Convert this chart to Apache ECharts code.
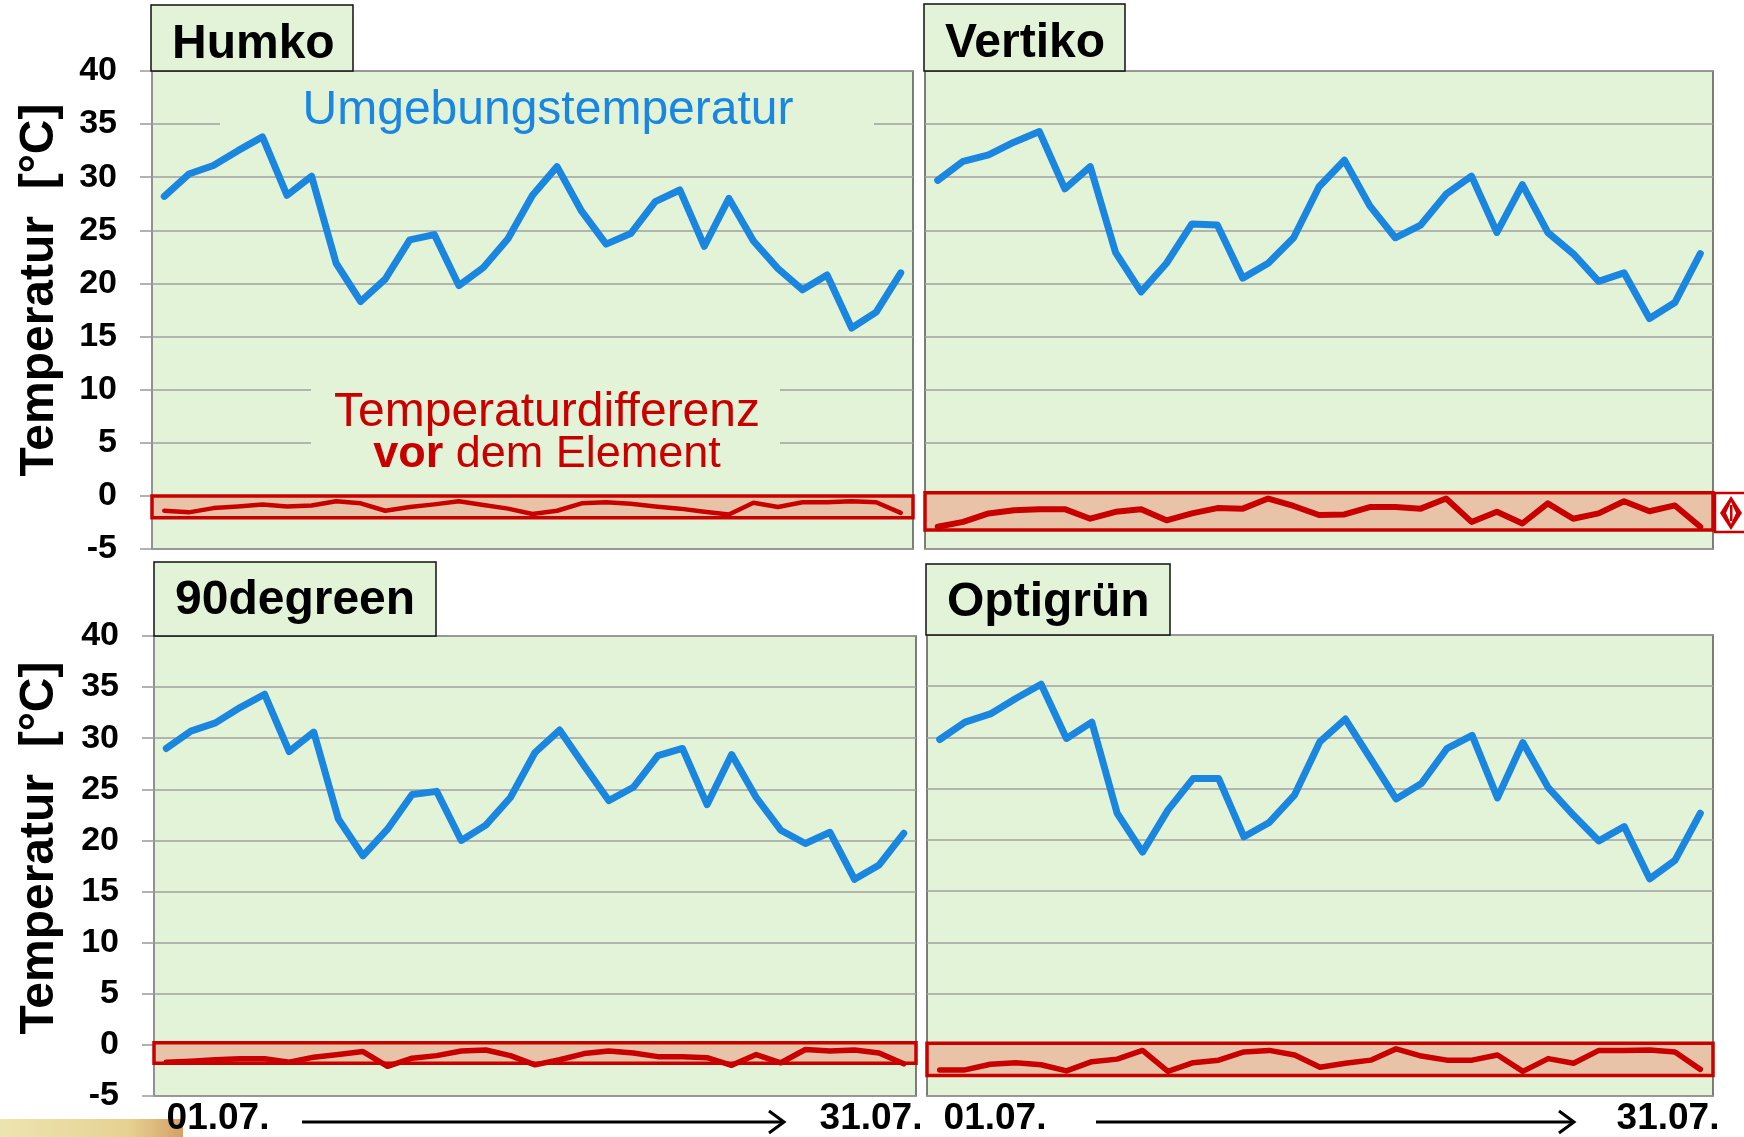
<!DOCTYPE html>
<html lang="de">
<head>
    <meta charset="UTF-8">
    <title>Temperatur Juli</title>
    <style>
        html, body { margin: 0; padding: 0; background: #fff; }
        #main { width: 1744px; height: 1137px; }
    </style>
</head>
<body>
<div id="main"></div>
<script src="https://cdn.jsdelivr.net/npm/echarts/dist/echarts.min.js"></script>
<script>
    // Tage
    var days = ['01.07.', '02.07.', '03.07.', '04.07.', '05.07.', '06.07.', '07.07.', '08.07.',
        '09.07.', '10.07.', '11.07.', '12.07.', '13.07.', '14.07.', '15.07.', '16.07.', '17.07.',
        '18.07.', '19.07.', '20.07.', '21.07.', '22.07.', '23.07.', '24.07.', '25.07.', '26.07.',
        '27.07.', '28.07.', '29.07.', '30.07.', '31.07.'];

    // Umgebungstemperatur / Temperaturdifferenz vor dem Element
    var humkoAmbient = [28.2, 30.3, 31.1, 32.5, 33.8, 28.3, 30.1, 21.9, 18.3, 20.4, 24.1, 24.6, 19.8, 21.5, 24.2, 28.3,
        31.0, 26.8, 23.7, 24.7, 27.7, 28.8, 23.5, 28.0, 24.0, 21.4, 19.4, 20.8, 15.8, 17.3, 21.0];
    var humkoDiff = [-1.4, -1.55, -1.15, -1.0, -0.8, -1.0, -0.9, -0.5, -0.7, -1.4, -1.05, -0.8, -0.5, -0.85, -1.2, -1.7,
        -1.4, -0.7, -0.6, -0.75, -1.0, -1.2, -1.5, -1.75, -0.65, -1.05, -0.6, -0.6, -0.5, -0.6, -1.6];

    var vertikoAmbient = [29.7, 31.5, 32.1, 33.3, 34.3, 28.9, 31.0, 22.9, 19.2, 21.9, 25.6, 25.5, 20.5, 21.9, 24.3, 29.1,
        31.6, 27.3, 24.3, 25.5, 28.4, 30.1, 24.8, 29.3, 24.8, 22.8, 20.2, 21.0, 16.7, 18.2, 22.8];
    var vertikoDiff = [-2.9, -2.45, -1.65, -1.35, -1.25, -1.25, -2.15, -1.5, -1.25, -2.3, -1.65, -1.15, -1.2, -0.25, -0.95,
        -1.8, -1.75, -1.05, -1.05, -1.2, -0.25, -2.45, -1.5, -2.6, -0.7, -2.15, -1.65, -0.5, -1.45, -0.9, -2.9];

    var degreenAmbient = [29.0, 30.7, 31.5, 33.0, 34.3, 28.7, 30.6, 22.1, 18.5, 21.1, 24.5, 24.8, 20.0, 21.5, 24.2, 28.6,
        30.8, 27.3, 23.9, 25.2, 28.3, 29.0, 23.5, 28.4, 24.2, 21.0, 19.7, 20.8, 16.2, 17.6, 20.7];
    var degreenDiff = [-1.7, -1.6, -1.45, -1.35, -1.35, -1.7, -1.2, -0.95, -0.65, -2.1, -1.3, -1.05, -0.6, -0.5, -1.05,
        -1.95, -1.45, -0.85, -0.6, -0.8, -1.15, -1.15, -1.25, -2.0, -0.95, -1.75, -0.45, -0.6, -0.5, -0.8, -1.85];

    var optigruenAmbient = [29.8, 31.5, 32.3, 33.8, 35.2, 29.9, 31.5, 22.6, 18.8, 22.9, 26.0, 26.0, 20.3, 21.7, 24.4, 29.6,
        31.8, 27.9, 24.0, 25.5, 28.9, 30.2, 24.1, 29.5, 25.1, 22.4, 19.9, 21.3, 16.2, 18.0, 22.6];
    var optigruenDiff = [-2.45, -2.45, -1.9, -1.75, -1.95, -2.55, -1.65, -1.4, -0.55, -2.6, -1.75, -1.5, -0.7, -0.55, -1.0,
        -2.2, -1.8, -1.5, -0.4, -1.1, -1.5, -1.5, -1.0, -2.6, -1.35, -1.8, -0.55, -0.55, -0.5, -0.7, -2.4];

    // Rahmen um die Differenz (oben, unten) in °C
    var humkoBand = [0, -2.05];
    var vertikoBand = [0.3, -3.2];
    var degreenBand = [0.2, -1.8];
    var optigruenBand = [0.15, -3.0];

    var yMin = -5, yMax = 40, yStep = 5;

    var font = '"Liberation Sans", Arial, sans-serif';
    var green = '#e2f3d8';
    var blue = '#1a86e0';
    var red = '#c80000';

    var panels = [
        {name: 'Humko', ambient: humkoAmbient, diff: humkoDiff, band: humkoBand, labels: true, redWidth: 4.5,
            grid: {left: 152, top: 71, width: 761, height: 478}, box: [151, 5, 202, 66], textY: 45},
        {name: 'Vertiko', ambient: vertikoAmbient, diff: vertikoDiff, band: vertikoBand, labels: false, redWidth: 6,
            grid: {left: 925, top: 71, width: 788, height: 478}, box: [924, 4, 201, 67], textY: 44},
        {name: '90degreen', ambient: degreenAmbient, diff: degreenDiff, band: degreenBand, labels: true, redWidth: 5.5,
            grid: {left: 154, top: 636, width: 762, height: 460}, box: [154, 562, 282, 74], textY: 601},
        {name: 'Optigrün', ambient: optigruenAmbient, diff: optigruenDiff, band: optigruenBand, labels: false, redWidth: 5.5,
            grid: {left: 927, top: 635, width: 786, height: 461}, box: [926, 564, 244, 71], textY: 603}
    ];

    var grids = [], xAxes = [], yAxes = [], series = [], graphics = [];

    panels.forEach(function (p, i) {
        grids.push({
            left: p.grid.left, top: p.grid.top, width: p.grid.width, height: p.grid.height,
            show: true, backgroundColor: green, borderColor: '#555', borderWidth: 1.5
        });
        xAxes.push({
            type: 'category', gridIndex: i, data: days, boundaryGap: true,
            axisLine: {show: false}, axisTick: {show: false}, axisLabel: {show: false}
        });
        yAxes.push({
            type: 'value', gridIndex: i, min: yMin, max: yMax, interval: yStep,
            axisLine: {show: p.labels, lineStyle: {color: '#999', width: 1.5}},
            axisTick: {show: p.labels, length: 12, lineStyle: {color: '#999', width: 1.5}},
            axisLabel: {
                show: p.labels, margin: 35, color: '#000', fontSize: 34,
                fontWeight: 'bold', fontFamily: font
            },
            splitLine: {lineStyle: {color: '#a0a0a0', width: 1.5}}
        });
        series.push({
            name: p.name + ' Umgebung', type: 'line', xAxisIndex: i, yAxisIndex: i,
            data: p.ambient, symbol: 'none', z: 4,
            lineStyle: {color: blue, width: 7, join: 'round', cap: 'round'},
            itemStyle: {color: blue}
        });
        series.push({
            name: p.name + ' Differenz', type: 'line', xAxisIndex: i, yAxisIndex: i,
            data: p.diff, symbol: 'none', z: 3,
            lineStyle: {color: red, width: p.redWidth, join: 'round', cap: 'round'},
            itemStyle: {color: red},
            markArea: {
                silent: true,
                label: {show: false},
                itemStyle: {color: '#e9c3a8', opacity: 1, borderColor: red, borderWidth: 3.5},
                data: [[{yAxis: p.band[0]}, {yAxis: p.band[1]}]]
            }
        });
        // Titelkasten
        graphics.push({
            type: 'rect', z: 10,
            shape: {x: p.box[0], y: p.box[1], width: p.box[2], height: p.box[3]},
            style: {fill: green, stroke: '#111', lineWidth: 1.5}
        });
        graphics.push({
            type: 'text', z: 11, x: p.box[0] + 21, y: p.textY,
            style: {
                text: p.name, font: 'bold 48px ' + font, fill: '#000',
                align: 'left', verticalAlign: 'middle', textAlign: 'left', textVerticalAlign: 'middle'
            }
        });
    });

    // Achsentitel
    [290, 848].forEach(function (cy) {
        graphics.push({
            type: 'text', z: 11, x: 40, y: cy, rotation: Math.PI / 2,
            style: {
                text: 'Temperatur  [°C]', font: 'bold 48px ' + font, fill: '#000',
                align: 'center', verticalAlign: 'middle', textAlign: 'center', textVerticalAlign: 'middle'
            }
        });
    });

    // Beschriftung im Humko-Diagramm (verdeckt die Gitterlinien)
    graphics.push({type: 'rect', z: 1, shape: {x: 220, y: 82, width: 654, height: 52}, style: {fill: green}});
    graphics.push({type: 'rect', z: 1, shape: {x: 311, y: 380, width: 469, height: 86}, style: {fill: green}});
    graphics.push({
        type: 'text', z: 11, x: 548, y: 111,
        style: {
            text: 'Umgebungstemperatur', font: '48px ' + font, fill: blue,
            align: 'center', verticalAlign: 'middle', textAlign: 'center', textVerticalAlign: 'middle'
        }
    });
    graphics.push({
        type: 'text', z: 11, x: 547, y: 413,
        style: {
            text: 'Temperaturdifferenz', font: '48px ' + font, fill: red,
            align: 'center', verticalAlign: 'middle', textAlign: 'center', textVerticalAlign: 'middle'
        }
    });
    graphics.push({
        type: 'text', z: 11, x: 547, y: 455,
        style: {
            text: '{b|vor} dem Element', font: '45px ' + font, fill: red,
            align: 'center', verticalAlign: 'middle', textAlign: 'center', textVerticalAlign: 'middle',
            rich: {b: {fontWeight: 'bold', fontSize: 45, fontFamily: font, fill: red}}
        }
    });

    // Zeitachse unten
    [[218, 871, 302, 784], [995, 1668, 1096, 1574]].forEach(function (a) {
        [[a[0], days[0]], [a[1], days[days.length - 1]]].forEach(function (t) {
            graphics.push({
                type: 'text', z: 11, x: t[0], y: 1119,
                style: {
                    text: t[1], font: 'bold 37px ' + font, fill: '#000',
                    align: 'center', verticalAlign: 'middle', textAlign: 'center', textVerticalAlign: 'middle'
                }
            });
        });
        graphics.push({
            type: 'line', z: 11, shape: {x1: a[2], y1: 1122, x2: a[3], y2: 1122},
            style: {stroke: '#000', lineWidth: 3}
        });
        graphics.push({
            type: 'polyline', z: 11, shape: {points: [[a[3] - 15, 1111], [a[3], 1122], [a[3] - 15, 1133]]},
            style: {stroke: '#000', lineWidth: 3, fill: null}
        });
    });

    // Symbol rechts neben dem Vertiko-Rahmen
    graphics.push({
        type: 'rect', z: 11, shape: {x: 1715, y: 493, width: 40, height: 39},
        style: {fill: '#fff', stroke: red, lineWidth: 2.5}
    });
    graphics.push({
        type: 'polygon', z: 12, shape: {points: [[1731, 496], [1742, 513], [1731, 530], [1720, 513]]},
        style: {fill: red}
    });
    graphics.push({
        type: 'polygon', z: 13, shape: {points: [[1731, 502], [1736, 513], [1731, 524], [1726, 513]]},
        style: {fill: '#fff'}
    });
    graphics.push({
        type: 'rect', z: 14, shape: {x: 1730, y: 505, width: 2.5, height: 16},
        style: {fill: red}
    });

    // Bildrest unten links
    graphics.push({
        type: 'rect', z: 0, shape: {x: 0, y: 1119, width: 183, height: 18},
        style: {
            fill: new echarts.graphic.LinearGradient(0, 0, 1, 0, [
                {offset: 0, color: '#ece4b0'},
                {offset: 0.7, color: '#e6d292'},
                {offset: 1, color: '#d4a066'}
            ])
        }
    });

    option = {
        backgroundColor: '#fff',
        animation: false,
        grid: grids,
        xAxis: xAxes,
        yAxis: yAxes,
        series: series,
        graphic: {elements: graphics}
    };

    var myChart = echarts.init(document.getElementById('main'));
    myChart.setOption(option);
    window.onresize = function () {
        myChart.resize();
    };
</script>
</body>
</html>
